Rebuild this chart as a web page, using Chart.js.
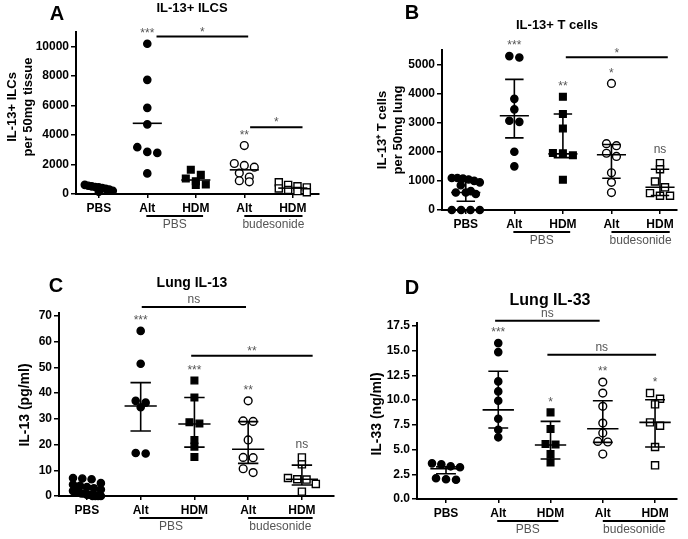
<!DOCTYPE html>
<html>
<head>
<meta charset="utf-8">
<script src="https://cdn.jsdelivr.net/npm/chart.js@4.4.1/dist/chart.umd.min.js"></script>
<style>
  body { margin: 0; background: #fff; width: 688px; height: 539px; position: relative; overflow: hidden; }
  canvas { position: absolute; }
</style>
</head>
<body>
<canvas id="cA" width="340" height="266" style="left:0;top:0"></canvas>
<canvas id="cB" width="348" height="266" style="left:340px;top:0"></canvas>
<canvas id="cC" width="340" height="273" style="left:0;top:266px"></canvas>
<canvas id="cD" width="348" height="273" style="left:340px;top:266px"></canvas>
<script>
// categorias del eje x (mismas en los 4 paneles)
const cats = ['PBS', 'Alt', 'HDM', 'Alt', 'HDM'];

// Panel A - IL-13+ ILCs por 50mg de tejido (linea = media)
const ilcPBS = [620, 560, 520, 480, 450, 400, 350, 300, 220, 150];
const ilcAlt = [10200, 7750, 5850, 4730, 3180, 2860, 2790, 1400];
const ilcHdm = [1650, 1300, 1050, 870, 650, 620];
const ilcAltBud = [3290, 2070, 1940, 1820, 1420, 1150, 900, 830];
const ilcHdmBud = [800, 620, 520, 450, 380, 280, 200, 120];
const ilcMean = [400, 4800, 950, 1640, 400];
const ilcTicks = [0, 2000, 4000, 6000, 8000, 10000];

// Panel B - IL-13+ T cells por 50mg de pulmon (mediana + rango)
const tPBS = [1100, 1100, 1080, 1050, 1000, 950, 850, 650, 600, 600, 550, 0, 0, 0, 0];
const tAlt = [5290, 5240, 3820, 3460, 3070, 3030, 2000, 1500];
const tHdm = [3890, 3300, 2800, 1960, 1950, 1880, 1040];
const tAltBud = [4350, 2280, 2210, 1950, 1840, 1280, 950, 600];
const tHdmBud = [1610, 1400, 980, 780, 580, 490, 490];
const tMed = [600, 3240, 1930, 1900, 780];
const tLo = [300, 2480, 1800, 1090, 500];
const tHi = [1000, 4490, 3300, 2250, 1400];
const tTicks = [0, 1000, 2000, 3000, 4000, 5000];

// Panel C - Lung IL-13 (pg/ml)
const c13PBS = [7, 6.8, 6.5, 5, 4.5, 4, 3.5, 3, 2.5, 2, 2, 1.5, 1, 1, 0.5, 0.5, 0, 0, 0, 0];
const c13Alt = [64.2, 51.4, 37, 36.3, 34.5, 16.7, 16.5];
const c13Hdm = [44.9, 38.3, 28.7, 28.2, 21.8, 19.2, 15.2];
const c13AltBud = [37, 29.2, 29, 21.8, 15, 14.9, 10.6, 9.1];
const c13HdmBud = [15, 12.3, 7, 6.5, 6.4, 4.7, 1.7];
const c13Med = [1.5, 35, 28, 18.2, 6.5];
const c13Lo = [0.5, 25.3, 19, 12.7, 4.3];
const c13Hi = [4, 44.1, 38.3, 28.9, 12];
const c13Ticks = [0, 10, 20, 30, 40, 50, 60, 70];

// Panel D - Lung IL-33 (ng/ml)
const c33PBS = [3.6, 3.5, 3.3, 3.2, 2.1, 2.0, 1.95];
const c33Alt = [15.75, 14.84, 11.88, 10.87, 9.93, 8.11, 7.0, 6.23];
const c33Hdm = [8.75, 7.07, 5.55, 5.5, 4.54, 3.7];
const c33AltBud = [11.81, 10.7, 9.36, 7.67, 6.66, 5.82, 5.76, 4.54];
const c33HdmBud = [10.7, 10.13, 9.56, 7.74, 7.4, 5.25, 3.4];
const c33Med = [3.05, 9.0, 5.45, 7.1, 7.74];
const c33Lo = [2.55, 7.17, 4.04, 5.72, 5.25];
const c33Hi = [3.25, 12.9, 7.84, 9.93, 10.03];
const c33Ticks = [0, 2.5, 5, 7.5, 10, 12.5, 15, 17.5];

// significancia sobre cada grupo y comparaciones entre grupos
const sigA = ['', '***', '', '**', ''];
const sigB = ['', '***', '**', '*', 'ns'];
const sigC = ['', '***', '***', '**', 'ns'];
const sigD = ['', '***', '*', '**', '*'];
const barsA = [{from: 1.19, to: 3.08, y: 10700, text: '*'}, {from: 3.12, to: 4.2, y: 4540, text: '*'}];
const barsB = [{from: 2.06, to: 4.16, y: 5250, text: '*'}];
const barsC = [{from: 1.02, to: 2.96, y: 73.5, text: 'ns'}, {from: 1.94, to: 4.2, y: 54.5, text: '**'}];
const barsD = [{from: 0.94, to: 2.94, y: 18.0, text: 'ns'}, {from: 1.94, to: 4.02, y: 14.57, text: 'ns'}];

const FONT = '"Liberation Sans", Arial, Helvetica, sans-serif';
Chart.defaults.font.family = FONT;

// estilo de los puntos por grupo
const styles = [
  {shape: 'circle', fill: '#000', r: 3.6},
  {shape: 'circle', fill: '#000', r: 3.6},
  {shape: 'rect', fill: '#000', r: 4.7},
  {shape: 'circle', fill: '#fff', r: 3.9},
  {shape: 'rect', fill: '#fff', r: 5}
];

// reparte horizontalmente los puntos que se solapan (tipo GraphPad)
function swarm(vals, pxU, pxC) {
  const order = vals.map((v, i) => i).sort((a, b) => vals[b] - vals[a]);
  const off = new Array(vals.length).fill(0);
  let row = [];
  const flush = () => {
    const step = row.length > 1 ? Math.min(10, 28 / (row.length - 1)) : 0;
    row.forEach((idx, k) => { off[idx] = (k - (row.length - 1) / 2) * step / pxC; });
    row = [];
  };
  order.forEach(idx => {
    if (row.length && (vals[row[0]] - vals[idx]) * pxU > 6) flush();
    row.push(idx);
  });
  flush();
  return off;
}

function text(ctx, s, x, y, font, color, align) {
  ctx.font = font;
  ctx.fillStyle = color;
  ctx.textAlign = align || 'center';
  ctx.textBaseline = 'middle';
  ctx.fillText(s, x, y);
}

function overlay(p) {
  return {
    id: 'overlay' + p.id,
    afterDatasetsDraw(chart) {
      const ctx = chart.ctx, xs = chart.scales.x, ys = chart.scales.y;
      const cw = xs.getPixelForValue(1) - xs.getPixelForValue(0);
      ctx.save();
      ctx.strokeStyle = '#000';
      ctx.lineWidth = 1.6;
      p.center.forEach((c, i) => {
        const px = xs.getPixelForValue(i);
        const yc = ys.getPixelForValue(c);
        ctx.beginPath();
        ctx.moveTo(px - 0.3 * cw, yc); ctx.lineTo(px + 0.3 * cw, yc);
        if (p.lo) {
          const yl = ys.getPixelForValue(p.lo[i]), yh = ys.getPixelForValue(p.hi[i]);
          ctx.moveTo(px, yl); ctx.lineTo(px, yh);
          ctx.moveTo(px - 0.19 * cw, yl); ctx.lineTo(px + 0.19 * cw, yl);
          ctx.moveTo(px - 0.19 * cw, yh); ctx.lineTo(px + 0.19 * cw, yh);
        }
        ctx.stroke();
      });
      ctx.restore();
    },
    afterDraw(chart) {
      const ctx = chart.ctx, xs = chart.scales.x, ys = chart.scales.y;
      const bottom = chart.chartArea.bottom;
      ctx.save();
      // letra del panel y titulo
      text(ctx, p.letter, p.letterPos[0], p.letterPos[1], 'bold 20px ' + FONT, '#000');
      text(ctx, p.title, p.titlePos[0], p.titlePos[1], 'bold ' + p.titleSize + 'px ' + FONT, '#000');
      // titulo eje y (rotado)
      p.yTitle.forEach((t, k) => {
        ctx.save();
        ctx.translate(p.yTitleX[k], p.yTitleY);
        ctx.rotate(-Math.PI / 2);
        text(ctx, t, 0, 0, 'bold ' + p.yTitleSize + 'px ' + FONT, '#000');
        ctx.restore();
      });
      // asteriscos sobre cada grupo
      p.groups.forEach((vals, i) => {
        const s = p.sig[i];
        if (!s) return;
        let top = Math.max(...vals);
        if (p.hi) top = Math.max(top, p.hi[i]);
        const yv = ys.getPixelForValue(top) - 13 + (s === 'ns' ? 0 : 3);
        text(ctx, s, xs.getPixelForValue(i), yv, '12px ' + FONT, '#555');
      });
      // comparaciones
      ctx.strokeStyle = '#000';
      ctx.lineWidth = 2;
      p.bars.forEach(b => {
        const y = ys.getPixelForValue(b.y);
        const x1 = xs.getPixelForValue(b.from), x2 = xs.getPixelForValue(b.to);
        ctx.beginPath(); ctx.moveTo(x1, y); ctx.lineTo(x2, y); ctx.stroke();
        text(ctx, b.text, (x1 + x2) / 2, y - 7 + (b.text === 'ns' ? 0 : 3), '12px ' + FONT, '#555');
      });
      // rotulos de tratamiento bajo el eje
      [[0.98, 2.15, 'PBS'], [3.0, 4.2, 'budesonide']].forEach(g => {
        const x1 = xs.getPixelForValue(g[0]), x2 = xs.getPixelForValue(g[1]);
        ctx.beginPath(); ctx.moveTo(x1, bottom + 22); ctx.lineTo(x2, bottom + 22); ctx.stroke();
        text(ctx, g[2], (x1 + x2) / 2, bottom + 31, '12px ' + FONT, '#555');
      });
      ctx.restore();
    }
  };
}

function makeChart(p) {
  const pxU = (p.area.b - p.area.t) / p.yMax;
  const pxC = (p.area.r - p.area.l) / (p.xMax - p.xMin);
  const datasets = p.groups.map((vals, i) => {
    const off = swarm(vals, pxU, pxC);
    const s = styles[i];
    return {
      data: vals.map((v, k) => ({x: i + off[k], y: v})),
      pointStyle: s.shape,
      pointRadius: s.r,
      pointHoverRadius: s.r,
      backgroundColor: s.fill,
      borderColor: '#000',
      borderWidth: 1.4,
      clip: false
    };
  });
  return new Chart(document.getElementById(p.id), {
    type: 'scatter',
    data: {datasets: datasets},
    options: {
      responsive: false,
      animation: false,
      devicePixelRatio: 1,
      layout: {padding: {top: p.area.t, right: p.W - p.area.r, left: 0, bottom: 0}},
      plugins: {legend: {display: false}, tooltip: {enabled: false}},
      scales: {
        x: {
          type: 'linear', min: p.xMin, max: p.xMax,
          afterBuildTicks: s => { s.ticks = cats.map((c, i) => ({value: i})); },
          afterFit: s => { s.height = p.H - p.area.b; },
          ticks: {callback: v => cats[v], font: {size: 12, weight: 'bold'}, color: '#000', padding: 3, maxRotation: 0, autoSkip: false},
          grid: {drawOnChartArea: false, tickLength: 4, color: '#000', lineWidth: 1.5},
          border: {color: '#000', width: 2}
        },
        y: {
          type: 'linear', min: 0, max: p.yMax,
          afterBuildTicks: s => { s.ticks = p.yTicks.map(v => ({value: v})); },
          afterFit: s => { s.width = p.area.l; },
          ticks: {callback: p.fmt, font: {size: 12, weight: 'bold'}, color: '#000', padding: 2},
          grid: {drawOnChartArea: false, tickLength: 5, color: '#000', lineWidth: 1.5},
          border: {color: '#000', width: 2}
        }
      }
    },
    plugins: [overlay(p)]
  });
}

makeChart({
  id: 'cA', W: 340, H: 266, area: {l: 76, r: 319, t: 32, b: 194},
  xMin: -0.47, xMax: 4.54, yMax: 11000, yTicks: ilcTicks, fmt: v => String(v),
  groups: [ilcPBS, ilcAlt, ilcHdm, ilcAltBud, ilcHdmBud], center: ilcMean, lo: null, hi: null,
  sig: sigA, bars: barsA,
  letter: 'A', letterPos: [57, 14], title: 'IL-13+ ILCS', titlePos: [192, 8], titleSize: 13,
  yTitle: ['IL-13+ ILCs', 'per 50mg tissue'], yTitleX: [12, 28], yTitleY: 107, yTitleSize: 13
});

makeChart({
  id: 'cB', W: 348, H: 266, area: {l: 102, r: 337, t: 50, b: 210},
  xMin: -0.49, xMax: 4.35, yMax: 5500, yTicks: tTicks, fmt: v => String(v),
  groups: [tPBS, tAlt, tHdm, tAltBud, tHdmBud], center: tMed, lo: tLo, hi: tHi,
  sig: sigB, bars: barsB,
  letter: 'B', letterPos: [72, 13], title: 'IL-13+ T cells', titlePos: [217, 25], titleSize: 13,
  yTitle: ['IL-13\u207A T cells', 'per 50mg lung'], yTitleX: [42, 58], yTitleY: 130, yTitleSize: 13
});

makeChart({
  id: 'cC', W: 340, H: 273, area: {l: 59, r: 335, t: 47.4, b: 230},
  xMin: -0.52, xMax: 4.59, yMax: 71, yTicks: c13Ticks, fmt: v => String(v),
  groups: [c13PBS, c13Alt, c13Hdm, c13AltBud, c13HdmBud], center: c13Med, lo: c13Lo, hi: c13Hi,
  sig: sigC, bars: barsC,
  letter: 'C', letterPos: [56, 20], title: 'Lung IL-13', titlePos: [192, 17], titleSize: 14,
  yTitle: ['IL-13 (pg/ml)'], yTitleX: [25], yTitleY: 139, yTitleSize: 14
});

makeChart({
  id: 'cD', W: 348, H: 273, area: {l: 77, r: 337, t: 56.8, b: 233},
  xMin: -0.555, xMax: 4.42, yMax: 17.8, yTicks: c33Ticks, fmt: v => v.toFixed(1),
  groups: [c33PBS, c33Alt, c33Hdm, c33AltBud, c33HdmBud], center: c33Med, lo: c33Lo, hi: c33Hi,
  sig: sigD, bars: barsD,
  letter: 'D', letterPos: [72, 22], title: 'Lung IL-33', titlePos: [210, 35], titleSize: 16,
  yTitle: ['IL-33 (ng/ml)'], yTitleX: [37], yTitleY: 148, yTitleSize: 14
});
</script>
</body>
</html>
